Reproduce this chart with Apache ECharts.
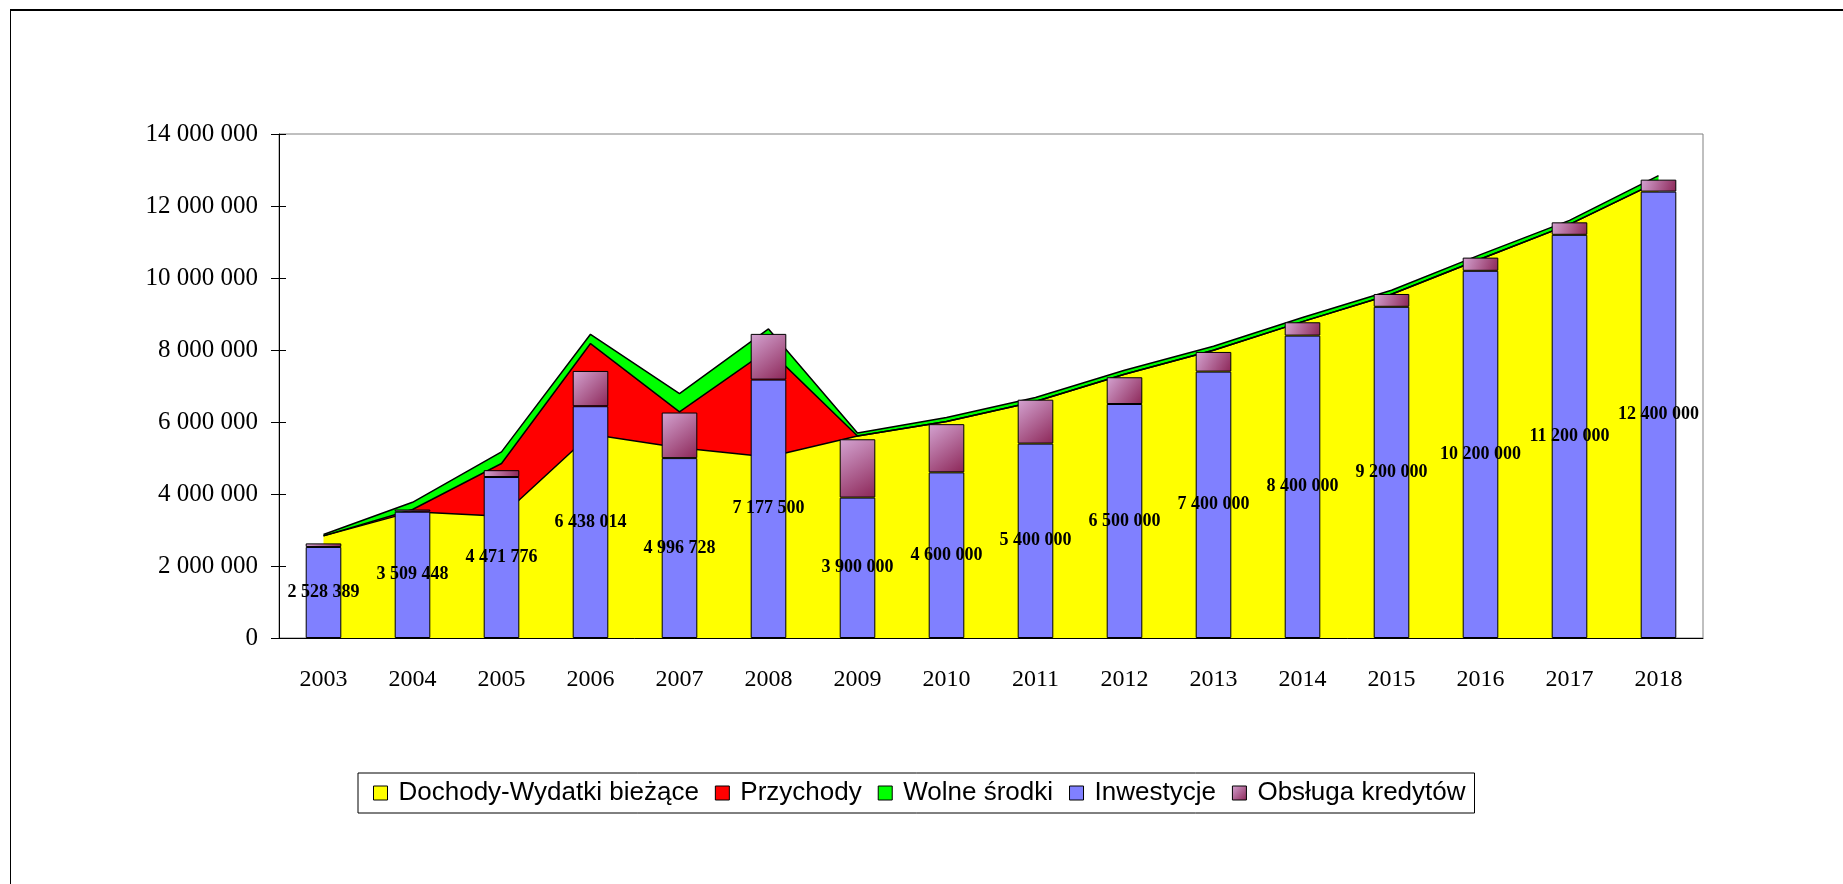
<!DOCTYPE html>
<html>
<head>
<meta charset="utf-8">
<script src="https://cdn.jsdelivr.net/npm/echarts@6/dist/echarts.min.js"></script>
<style>
  html, body { margin: 0; padding: 0; background: #fff; overflow: hidden; }
  .frame {
    position: absolute; left: 10px; top: 9px; width: 1900px; height: 1000px;
    border-top: 2px solid #000; border-left: 1px solid #000;
  }
  #chart { position: absolute; left: 0; top: 0; width: 1843px; height: 884px; }
</style>
</head>
<body>
<div class="frame"></div>
<div id="chart"></div>
<script>
  var years = ['2003', '2004', '2005', '2006', '2007', '2008', '2009', '2010',
    '2011', '2012', '2013', '2014', '2015', '2016', '2017', '2018']
  // areas (stacked)
  var biezace = [2837000, 3510000, 3381000, 5660000, 5286000, 5030000, 5613000, 6013000,
    6568000, 7326000, 7993000, 8789000, 9547000, 10527000, 11491000, 12685000]
  var przychody = [0, 60000, 1466000, 2519000, 994000, 2980000, 0, 0,
    0, 0, 0, 0, 0, 0, 0, 0]
  var wolne = [40000, 200000, 322000, 258000, 511000, 574000, 80000, 111000,
    112000, 111000, 111000, 112000, 111000, 122000, 111000, 158000]
  // bars (stacked)
  var inwestycje = [2528389, 3509448, 4471776, 6438014, 4996728, 7177500, 3900000, 4600000,
    5400000, 6500000, 7400000, 8400000, 9200000, 10200000, 11200000, 12400000]
  var obsluga = [100000, 60000, 190000, 980000, 1266000, 1270000, 1620000, 1340000,
    1220000, 743000, 546000, 370000, 356000, 366000, 346000, 332000]

  var serif = '"Liberation Serif", "Times New Roman", serif'
  var sans = '"Liberation Sans", Arial, sans-serif'

  function fmt (v) {
    return String(v).replace(/\B(?=(\d{3})+(?!\d))/g, ' ')
  }

  var pink = new echarts.graphic.LinearGradient(0, 0, 1, 1, [
    { offset: 0, color: '#d4a4d2' },
    { offset: 1, color: '#8c2657' }
  ])

  function areaSeries (name, color, data) {
    return {
      name: name,
      type: 'line',
      stack: 'area',
      data: data,
      symbol: 'none',
      color: color,
      lineStyle: { color: '#000', width: 1.5 },
      areaStyle: { color: color, opacity: 1 },
      itemStyle: { color: color },
      z: 1,
      silent: true
    }
  }

  var chart = echarts.init(document.getElementById('chart'))
  var option = {
    animation: false,
    backgroundColor: 'transparent',
    grid: {
      left: 279, top: 134, width: 1424, height: 504,
      show: true, borderColor: '#808080', borderWidth: 1, backgroundColor: 'transparent'
    },
    legend: {
      left: 358, top: 773,
      padding: [7, 9, 7, 15],
      itemGap: 16,
      itemWidth: 14,
      itemHeight: 14,
      icon: 'rect',
      borderColor: '#000',
      borderWidth: 1,
      backgroundColor: '#fff',
      itemStyle: { borderColor: '#000', borderWidth: 1 },
      textStyle: { fontFamily: sans, fontSize: 26, color: '#000', padding: [0, 0, 0, 6] },
      data: ['Dochody-Wydatki bieżące', 'Przychody', 'Wolne środki', 'Inwestycje', 'Obsługa kredytów']
    },
    xAxis: [{
      type: 'category',
      data: years,
      boundaryGap: true,
      axisLine: { lineStyle: { color: '#000', width: 1 } },
      axisTick: { length: 8, lineStyle: { color: '#000' } },
      axisLabel: { margin: 30, fontFamily: serif, fontSize: 24, color: '#000' }
    }, {
      type: 'category',
      data: years,
      position: 'bottom',
      boundaryGap: true,
      axisLine: { show: false },
      axisTick: { inside: true, length: 7, lineStyle: { color: '#000' } },
      axisLabel: { show: false }
    }],
    yAxis: [{
      type: 'value',
      min: 0, max: 14000000, interval: 2000000,
      splitLine: { show: false },
      axisLine: { show: true, lineStyle: { color: '#000', width: 1 } },
      axisTick: { show: true, length: 8, lineStyle: { color: '#000' } },
      axisLabel: { margin: 21, fontFamily: serif, fontSize: 25, color: '#000', formatter: fmt }
    }, {
      type: 'value',
      position: 'left',
      min: 0, max: 14000000, interval: 2000000,
      splitLine: { show: false },
      axisLine: { show: false },
      axisTick: { show: true, inside: true, length: 7, lineStyle: { color: '#000' } },
      axisLabel: { show: false }
    }],
    series: [
      areaSeries('Dochody-Wydatki bieżące', '#ffff00', biezace),
      areaSeries('Przychody', '#ff0000', przychody),
      areaSeries('Wolne środki', '#00ff00', wolne),
      {
        name: 'Inwestycje',
        type: 'bar',
        stack: 'bar',
        barWidth: '40%',
        data: inwestycje,
        z: 3,
        itemStyle: { color: '#8080ff', borderColor: '#000', borderWidth: 1 },
        label: {
          show: true,
          position: 'inside',
          fontFamily: serif,
          fontWeight: 'bold',
          fontSize: 18,
          color: '#000',
          formatter: function (p) { return fmt(p.value) }
        }
      },
      {
        name: 'Obsługa kredytów',
        type: 'bar',
        stack: 'bar',
        barWidth: '40%',
        data: obsluga,
        z: 3,
        itemStyle: { color: pink, borderColor: '#000', borderWidth: 1 }
      }
    ]
  }
  chart.setOption(option)
</script>
</body>
</html>
